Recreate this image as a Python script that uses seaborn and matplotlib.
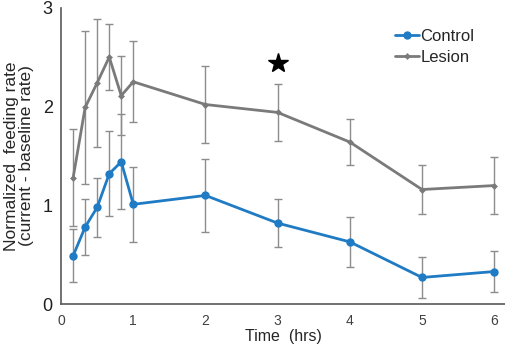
import numpy as np
import pandas as pd
import matplotlib
matplotlib.use("Agg")
import matplotlib.pyplot as plt
import seaborn as sns

# Data
time_hrs = [0.167, 0.333, 0.5, 0.667, 0.833, 1, 2, 3, 4, 5, 6]
control_mean = [0.49, 0.78, 0.98, 1.32, 1.44, 1.01, 1.10, 0.82, 0.63, 0.27, 0.33]
control_err = [0.27, 0.28, 0.30, 0.43, 0.48, 0.38, 0.37, 0.24, 0.25, 0.21, 0.21]
lesion_mean = [1.28, 1.99, 2.24, 2.50, 2.11, 2.25, 2.02, 1.94, 1.64, 1.16, 1.20]
lesion_err = [0.49, 0.77, 0.65, 0.33, 0.40, 0.41, 0.39, 0.29, 0.23, 0.25, 0.29]
star_x, star_y = 3, 2.44

sns.set_style("white")
plt.rcParams["font.family"] = ["Liberation Sans", "DejaVu Sans"]

df_ctrl = pd.DataFrame({"time": time_hrs, "rate": control_mean})
df_les = pd.DataFrame({"time": time_hrs, "rate": lesion_mean})

BLUE = "#1f7bc4"
GRAY = "#7a7a7a"
ERR = "#8c8c8c"

fig = plt.figure(figsize=(5.05, 3.48), dpi=100)
ax = fig.add_axes([0.121, 0.126, 0.879, 0.852])

# error bars first so lines sit on top
ax.errorbar(time_hrs, lesion_mean, yerr=lesion_err, fmt="none", ecolor=ERR,
            elinewidth=1, capsize=3, capthick=1, zorder=1)
ax.errorbar(time_hrs, control_mean, yerr=control_err, fmt="none", ecolor=ERR,
            elinewidth=1, capsize=3, capthick=1, zorder=1)

sns.lineplot(data=df_ctrl, x="time", y="rate", color=BLUE, marker="o",
             markersize=6, markeredgewidth=0, linewidth=2, label="Control",
             ax=ax, zorder=3)
sns.lineplot(data=df_les, x="time", y="rate", color=GRAY, marker="D",
             markersize=3.5, markeredgewidth=0, linewidth=2, label="Lesion",
             ax=ax, zorder=3)

ax.plot(star_x, star_y, marker="*", color="black", markersize=15, linestyle="none")

ax.set_xlim(0, 6.15)
ax.set_ylim(0, 3)
ax.set_xticks([0, 1, 2, 3, 4, 5, 6])
ax.set_yticks([0, 1, 2, 3])
ax.tick_params(axis="x", labelsize=10, length=0, pad=7, colors="#404040")
ax.tick_params(axis="y", labelsize=13, length=0, pad=6, colors="#202020")
for s in ["top", "right"]:
    ax.spines[s].set_visible(False)
for s in ["left", "bottom"]:
    ax.spines[s].set_color("#595959")
    ax.spines[s].set_linewidth(1.2)

ax.set_xlabel("Time  (hrs)", fontsize=11.5, labelpad=1)
ax.set_ylabel("Normalized  feeding rate\n(current - baseline rate)", fontsize=12.5,
              labelpad=6, linespacing=1.0)

ax.legend(loc="upper right", bbox_to_anchor=(0.965, 0.98),
          frameon=False, fontsize=12, handlelength=1.4, handletextpad=0.1,
          labelspacing=0.4)

fig.savefig("out.png", dpi=100)
